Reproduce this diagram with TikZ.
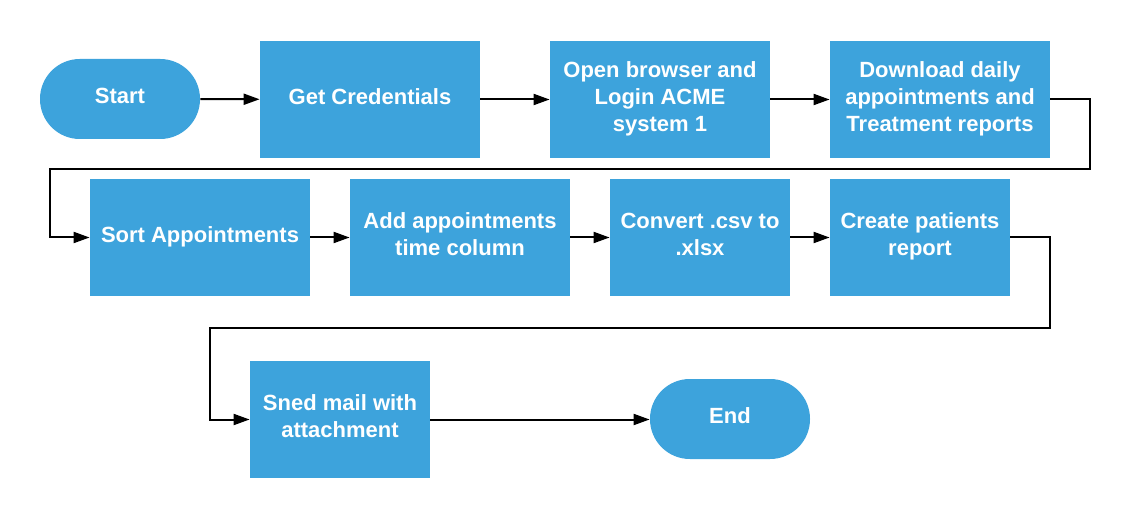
\documentclass[tikz,border=0pt]{standalone}
\usepackage{fontspec}
\setmainfont{Liberation Sans}
\usetikzlibrary{arrows.meta}
\definecolor{boxblue}{RGB}{61,163,220}
\tikzset{
  x=0.5pt, y=-0.5pt,
  base/.style={fill=boxblue, draw=none, text=white, align=center, inner sep=0pt,
    text depth=3pt, font=\fontsize{11}{13.5}\selectfont\bfseries},
  procbox/.style={base, rectangle, minimum height=58.5pt},
  termbox/.style={base, rectangle, rounded corners=19.9pt, minimum width=80pt, minimum height=40pt},
  conn/.style={line width=1pt, -{Triangle[length=8pt,width=5.5pt]}},
}
\begin{document}
\begin{tikzpicture}
\useasboundingbox (0,0) rectangle (1130,518);
\node[termbox] (start) at (120,99) {Start};
\node[procbox, minimum width=110pt] (cred) at (370,99.5) {Get Credentials};
\node[procbox, minimum width=110pt] (login) at (660,99.5) {Open browser and\\Login ACME\\system 1};
\node[procbox, minimum width=110pt] (down) at (940,99.5) {Download daily\\appointments and\\Treatment reports};
\node[procbox, minimum width=110pt] (sort) at (200,237.5) {Sort Appointments};
\node[procbox, minimum width=110pt] (addt) at (460,237.5) {Add appointments\\time column};
\node[procbox, minimum width=90pt] (conv) at (700,237.5) {Convert .csv to\\.xlsx};
\node[procbox, minimum width=90pt] (create) at (920,237.5) {Create patients\\report};
\node[procbox, minimum width=90pt] (mail) at (340,419.5) {Sned mail with\\attachment};
\node[termbox] (end) at (730,419) {End};

\coordinate (r1a) at (1090,99);
\coordinate (r1b) at (1090,169);
\coordinate (r1c) at (50,169);
\coordinate (r1d) at (50,237.5);
\coordinate (r2a) at (1050,237.5);
\coordinate (r2b) at (1050,328);
\coordinate (r2c) at (210,328);
\coordinate (r2d) at (210,419.5);

\draw[conn] (start) -- (cred);
\draw[conn] (cred) -- (login);
\draw[conn] (login) -- (down);
\draw[conn] (down.east |- r1a) -- (r1a) -- (r1b) -- (r1c) -- (r1d) -- (sort.west);
\draw[conn] (sort) -- (addt);
\draw[conn] (addt) -- (conv);
\draw[conn] (conv) -- (create);
\draw[conn] (create.east) -- (r2a) -- (r2b) -- (r2c) -- (r2d) -- (mail.west);
\draw[conn] (mail) -- (end.west |- mail);
\end{tikzpicture}
\end{document}
